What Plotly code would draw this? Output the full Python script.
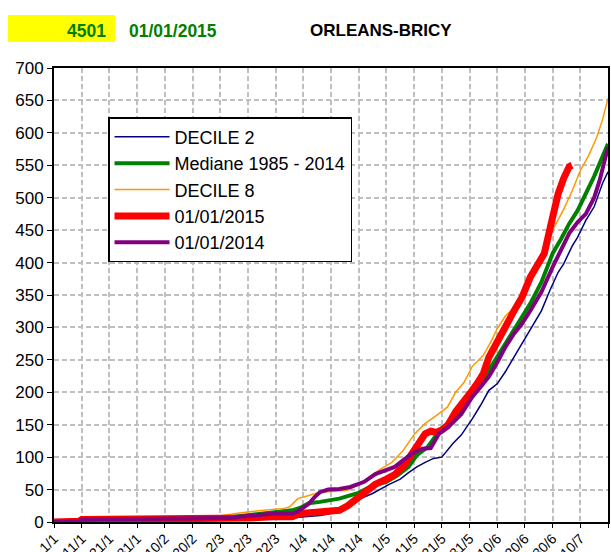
import plotly.graph_objects as go

# ---- data (x = days since 1 January) ----
tick_days = [0, 10, 20, 30, 40, 50, 60, 70, 80, 90, 100, 110, 120, 130, 140, 150, 160, 170, 180, 190, 200]
tick_labels = ["1/1", "11/1", "21/1", "31/1", "10/2", "20/2", "2/3", "12/3", "22/3", "1/4", "11/4",
               "21/4", "1/5", "11/5", "21/5", "31/5", "10/6", "20/6", "30/6", "10/7", "20/7"]

d2_days = [0, 9, 10, 30, 60, 85, 92, 96, 100, 103, 109, 115, 121, 125, 128, 131, 134, 137, 140, 144, 147,
           151, 154, 157, 160, 163, 166, 170, 173, 176, 179, 182, 184, 187, 189, 192, 195, 198, 200]
d2_vals = [0, 1, 4, 4, 5, 6, 8, 10, 13, 21, 33, 44, 58, 66, 76, 85, 92, 98, 100, 121, 134,
           159, 180, 203, 213, 232, 254, 283, 306, 326, 357, 385, 398, 425, 439, 465, 486, 522, 540]

med_days = [0, 9, 10, 60, 65, 72, 80, 86, 89, 92, 96, 100, 103, 106, 110, 115, 120, 124, 128, 131, 135,
            139, 144, 147, 150, 154, 157, 160, 163, 166, 169, 172, 176, 180, 183, 186, 189, 192, 195, 197, 200]
med_vals = [0, 1, 4, 5, 8, 11, 14, 18, 22, 29, 31, 33, 36, 40, 45, 56, 62, 72, 85, 103, 116,
            140, 160, 172, 190, 212, 234, 255, 275, 296, 316, 337, 370, 414, 436, 460, 480, 506, 533, 553, 583]

d8_days = [0, 9, 10, 58, 59, 63, 67, 73, 79, 83, 85, 88, 92, 96, 100, 106, 110, 114, 118, 122, 126, 130,
           134, 138, 142, 145, 148, 151, 155, 158, 160, 163, 166, 169, 172, 175, 178, 181, 184, 187, 190,
           193, 196, 198, 200]
d8_vals = [0, 1, 4, 5, 9, 12, 14, 17, 19, 21, 23, 36, 41, 46, 47, 49, 58, 70, 82, 92, 110, 135,
           152, 164, 177, 200, 215, 240, 257, 280, 298, 318, 330, 349, 378, 403, 434, 458, 482, 510, 542,
           565, 594, 620, 653]

y2015_days = [0, 9, 10, 60, 65, 70, 79, 86, 89, 93, 100, 103, 106, 108, 110, 113, 116, 120, 123, 126, 128,
              130, 132, 134, 136, 138, 140, 142, 145, 148, 151, 153, 155, 157, 160, 163, 166, 169, 172, 175,
              177, 180, 182, 184, 185, 186, 187]
y2015_vals = [0, 1, 4, 4, 5, 6, 8, 8, 13, 14, 15, 18, 25, 32, 40, 50, 58, 66, 73, 85, 98,
              112, 125, 136, 140, 138, 142, 148, 170, 185, 203, 215, 229, 254, 275, 301, 325, 347, 378, 398,
              414, 470, 506, 530, 542, 548, 550]

y2014_days = [0, 9, 10, 60, 64, 67, 72, 79, 86, 88, 90, 92, 94, 96, 99, 103, 107, 112, 116, 120, 123, 126,
              129, 133, 136, 139, 143, 147, 151, 154, 157, 160, 163, 166, 169, 172, 176, 180, 183, 186, 189,
              192, 195, 197, 200]
y2014_vals = [0, 1, 4, 5, 6, 8, 10, 13, 13, 16, 22, 28, 38, 46, 50, 51, 54, 62, 74, 80, 85, 95,
              105, 113, 114, 136, 149, 166, 193, 208, 224, 246, 270, 290, 306, 326, 355, 393, 420, 445, 462,
              475, 500, 527, 578]

FONT = "Liberation Sans, Arial, sans-serif"

fig = go.Figure()
fig.add_trace(go.Scatter(x=d2_days, y=d2_vals, mode="lines", name="DECILE 2",
                         line=dict(color="#000080", width=1.5)))
fig.add_trace(go.Scatter(x=med_days, y=med_vals, mode="lines", name="Mediane 1985 - 2014",
                         line=dict(color="#008000", width=4)))
fig.add_trace(go.Scatter(x=d8_days, y=d8_vals, mode="lines", name="DECILE 8",
                         line=dict(color="#FF9900", width=1.5)))
fig.add_trace(go.Scatter(x=y2015_days, y=y2015_vals, mode="lines", name="01/01/2015",
                         line=dict(color="#FF0000", width=7)))
fig.add_trace(go.Scatter(x=y2014_days, y=y2014_vals, mode="lines", name="01/01/2014",
                         line=dict(color="#800080", width=4)))

fig.update_layout(
    width=611, height=552,
    margin=dict(l=54, r=3, t=68, b=30),
    paper_bgcolor="white", plot_bgcolor="white",
    font=dict(family=FONT, color="black"),
    showlegend=True,
    legend=dict(x=0.0975, y=0.892, xanchor="left", yanchor="top",
                bgcolor="white", bordercolor="black", borderwidth=1.5,
                font=dict(size=18, family=FONT, color="black"),
                tracegroupgap=0, itemwidth=55),
    xaxis=dict(range=[0, 200], tickmode="array", tickvals=tick_days, ticktext=tick_labels,
               tickangle=-45, tickfont=dict(size=14, family=FONT, color="black"),
               ticklabelstandoff=-3,
               showgrid=True, gridcolor="#BFBFBF", gridwidth=1.5, griddash="5px,3px",
               showline=True, linecolor="black", linewidth=2, mirror=True,
               ticks="outside", ticklen=4, tickcolor="black", zeroline=False, automargin=False),
    yaxis=dict(range=[0, 700], tickmode="linear", tick0=0, dtick=50,
               tickfont=dict(size=17, family=FONT, color="black"),
               showgrid=True, gridcolor="#BFBFBF", gridwidth=1.5, griddash="5px,3px",
               showline=True, linecolor="black", linewidth=2, mirror=True,
               ticks="outside", ticklen=5, tickcolor="black", zeroline=False, automargin=False),
)

fig.add_shape(type="rect", xref="paper", yref="paper", x0=-0.083, x1=0.110, y0=1.057, y1=1.117,
              fillcolor="#FFFF00", line=dict(width=0), layer="below")
fig.add_annotation(xref="paper", yref="paper", x=0.0975, y=1.0815, xanchor="right", yanchor="middle",
                   text="<b>4501</b>", showarrow=False, font=dict(size=17.5, color="#008000", family=FONT))
fig.add_annotation(xref="paper", yref="paper", x=0.1318, y=1.0815, xanchor="left", yanchor="middle",
                   text="<b>01/01/2015</b>", showarrow=False, font=dict(size=17.5, color="#008000", family=FONT))
fig.add_annotation(xref="paper", yref="paper", x=0.590, y=1.0815, xanchor="center", yanchor="middle",
                   text="<b>ORLEANS-BRICY</b>", showarrow=False, font=dict(size=17, color="black", family=FONT))

fig.write_html("out.html", config={"displayModeBar": False},
               post_script="document.body.style.margin='0px';document.body.style.overflow='hidden';")
